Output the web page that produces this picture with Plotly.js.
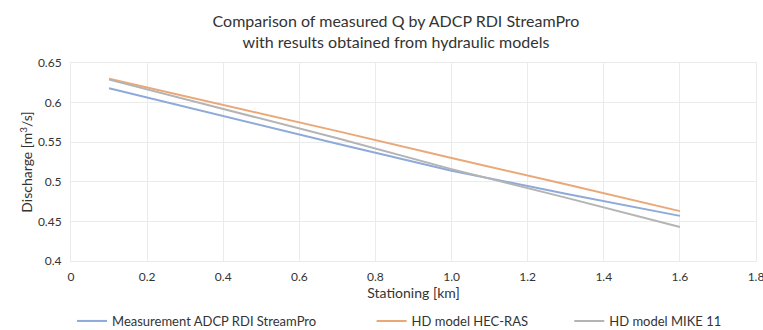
<!DOCTYPE html>
<html>
<head>
<meta charset="utf-8">
<script src="https://cdn.plot.ly/plotly-3.0.1.min.js"></script>
<style>html,body{margin:0;padding:0;background:#fff;}#chart{width:763px;height:330px;}</style>
</head>
<body>
<div id="chart"></div>
<script>
const stationing = [0.1, 0.4, 0.7, 1.0, 1.3, 1.6];
const measuredADCP = [0.618, 0.583, 0.548, 0.514, 0.485, 0.457];
const hecRas = [0.630, 0.597, 0.564, 0.530, 0.497, 0.463];
const mike11 = [0.629, 0.592, 0.555, 0.516, 0.480, 0.443];
const xTickVals = [0, 0.2, 0.4, 0.6, 0.8, 1.0, 1.2, 1.4, 1.6, 1.8];
const xTickText = ["0", "0.2", "0.4", "0.6", "0.8", "1.0", "1.2", "1.4", "1.6", "1.8"];
const seriesNames = ["Measurement ADCP RDI StreamPro", "HD model HEC-RAS", "HD model MIKE 11"];

const FONT = "Lato, 'Open Sans', sans-serif";
const GRID = "#ebebeb";
const traces = [
  {x: stationing, y: measuredADCP, name: seriesNames[0], mode: "lines", line: {color: "#8eaad8", width: 2}, legend: "legend"},
  {x: stationing, y: hecRas, name: seriesNames[1], mode: "lines", line: {color: "#eaa878", width: 2}, legend: "legend2"},
  {x: stationing, y: mike11, name: seriesNames[2], mode: "lines", line: {color: "#b4b4b4", width: 2}, legend: "legend3"}
];
const legBase = {orientation: "h", y: -0.303, yanchor: "middle", xanchor: "left", font: {size: 13}, bgcolor: "rgba(0,0,0,0)"};
const layout = {
  width: 763, height: 330,
  margin: {l: 71, r: 7, t: 63, b: 69, autoexpand: false},
  paper_bgcolor: "#fff", plot_bgcolor: "#fff",
  font: {family: FONT, size: 12, color: "#333"},
  title: {text: "Comparison of measured Q by ADCP RDI StreamPro<br>with results obtained from hydraulic models",
          x: 0.519, xanchor: "center", y: 0.918, yanchor: "top", font: {family: FONT, size: 16, color: "#333"}},
  xaxis: {range: [0, 1.8], tickvals: xTickVals, ticktext: xTickText, showgrid: true, gridcolor: GRID,
          zeroline: false, showline: true, linecolor: GRID, mirror: true, ticks: "", tickfont: {size: 12},
          ticklabelstandoff: 5, ticklabeloverflow: "allow",
          title: {text: "Stationing [km]", font: {size: 14}, standoff: 2}},
  yaxis: {range: [0.4, 0.65], dtick: 0.05, showgrid: true, gridcolor: GRID, zeroline: false,
          showline: true, linecolor: GRID, mirror: true, ticks: "", tickfont: {size: 12},
          ticklabelstandoff: 6,
          title: {text: "Discharge [m<sup>3</sup>/s]", font: {size: 14}, standoff: 1}},
  showlegend: true,
  legend: Object.assign({}, legBase, {x: 0.0015}),
  legend2: Object.assign({}, legBase, {x: 0.4388}),
  legend3: Object.assign({}, legBase, {x: 0.7274})
};
Plotly.newPlot("chart", traces, layout, {displayModeBar: false, staticPlot: true});
</script>
</body>
</html>
